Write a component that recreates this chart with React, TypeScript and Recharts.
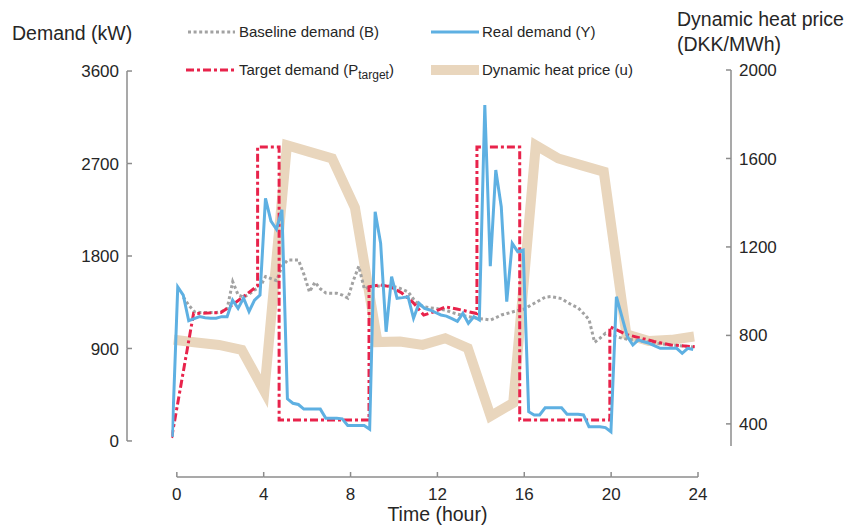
import React from 'react';
import { LineChart, Line, XAxis, YAxis, Legend } from 'recharts';

// ---------------- data ----------------
const xTicks = [0, 4, 8, 12, 16, 20, 24];
const demandTicks = [0, 900, 1800, 2700, 3600];
const priceTicks = [400, 800, 1200, 1600, 2000];

// Real demand (Y): samples (first one just left of 0 h)
const realStartHour = -0.21;
const realStepHours = 0.2525;
const realDemand = [
  40, 1500, 1420, 1170, 1190, 1210, 1200, 1195, 1195, 1210, 1210, 1370, 1290, 1390, 1260, 1370,
  1420, 2360, 2140, 2060, 2250, 410, 367, 355, 310, 310, 310, 310, 221, 221, 221, 215,
  150, 150, 150, 150, 115, 2231, 1924, 1063, 1599, 1388, 1395, 1404, 1194, 1340, 1290, 1275,
  1250, 1226, 1215, 1190, 1165, 1242, 1145, 1209, 1177, 3269, 1700, 2637, 2280, 1355, 1923, 1842,
  1858, 285, 253, 253, 323, 323, 323, 323, 260, 260, 260, 253, 139, 139, 139, 130,
  90, 1404, 1209, 1015, 934, 983, 965, 950, 925, 902, 902, 902, 902, 853, 902, 890,
];

// Baseline demand (B): same sampling, starting two samples later
const baselineStartHour = 0.3;
const baselineStepHours = 0.2525;
const baselineDemand = [
  1400, 1320, 1258, 1250, 1250, 1250, 1250, 1260, 1290, 1550, 1420, 1400, 1430, 1470,
  1500, 1600, 1580, 1560, 1700, 1760, 1760, 1760, 1620, 1450, 1545, 1480, 1440, 1437,
  1437, 1420, 1390, 1560, 1700, 1480, 1500, 1505, 1510, 1510, 1505, 1495, 1475, 1450,
  1380, 1323, 1305, 1295, 1290, 1280, 1270, 1250, 1235, 1220, 1209, 1200, 1190, 1185,
  1177, 1200, 1226, 1240, 1255, 1270, 1280, 1310, 1340, 1370, 1400, 1405, 1395, 1385,
  1350, 1320, 1295, 1240, 1180, 960, 1000, 1048, 1030, 1015, 1000, 990, 985, 975,
  970, 960, 950, 945, 940, 935, 930, 925, 920, 915,
];

// Target demand (P_target): vertices (hour, kW)
const targetHours = [
  -0.24, 0.77, 2.03, 2.53, 3.04, 3.72, 3.72, 4.71, 4.71, 8.85, 8.85, 9.35, 9.86, 10.36, 10.87, 11.37,
  11.88, 12.38, 12.89, 13.39, 13.82, 13.82, 15.79, 15.79, 19.94, 19.94, 20.72, 21.98, 22.74, 23.85,
];
const targetDemand = [
  30, 1240, 1250, 1320, 1400, 1510, 2860, 2860, 205, 205, 1500, 1520, 1500, 1440, 1350, 1225,
  1260, 1305, 1285, 1260, 1240, 2860, 2860, 205, 205, 1112, 1035, 968, 934, 917,
];

// Dynamic heat price (u): hourly vertices (hour, DKK/MWh)
const priceHours = [
  -0.14, 0.9, 1.94, 2.99, 4.03, 5.07, 6.11, 7.15, 8.2, 9.24, 10.28, 11.32,
  12.36, 13.4, 14.45, 15.49, 16.53, 17.57, 18.61, 19.66, 20.7, 21.74, 22.78, 23.82,
];
const priceValues = [
  780, 768, 757, 735, 548, 1660, 1630, 1600, 1378, 770, 772, 757,
  787, 742, 435, 495, 1660, 1600, 1570, 1540, 805, 775, 780, 795,
];

const realData = realDemand.map((v, i) => ({ t: realStartHour + i * realStepHours, v }));
const baselineData = baselineDemand.map((v, i) => ({ t: baselineStartHour + i * baselineStepHours, v }));
const targetData = targetHours.map((t, i) => ({ t, v: targetDemand[i] }));
const priceData = priceHours.map((t, i) => ({ t, v: priceValues[i] }));

// ---------------- layout / style ----------------
const CHART_W = 849;
const CHART_H = 526;
const TOP = 70;
const LEFT_AXIS_W = 127;
const RIGHT_AXIS_W = 118;
const X_AXIS_H = 80;
const X_DOMAIN = [-0.25, 24];
const X_PAD = { left: 44.4, right: 33 };
const PLOT_W = CHART_W - LEFT_AXIS_W - RIGHT_AXIS_W;
const PLOT_H = CHART_H - TOP - X_AXIS_H;
const HOUR_PX = (PLOT_W - X_PAD.left - X_PAD.right) / (X_DOMAIN[1] - X_DOMAIN[0]);
const LEFT_DOMAIN = [-49, 3610];
const RIGHT_DOMAIN = [300, 2000];
const DEMAND_PX = PLOT_H / (LEFT_DOMAIN[1] - LEFT_DOMAIN[0]);
const X_AXIS_DROP = 31;
const TICK_LEN = 5;
const Y_TICK_GAP = 8;

const FONT = '"Liberation Sans", Arial, Helvetica, sans-serif';
const TEXT = '#262626';
const AXIS = '#8c8c8c';
const C_BASE = '#a2a2a2';
const C_REAL = '#5eb0e2';
const C_TARGET = '#e8234b';
const C_PRICE = '#e9d6bd';
const DASH_BASE = '3 2.6';
const DASH_TARGET = '8 3 3 3';

const TICK_FONT = 17;
const TITLE_FONT = 19.5;
const LEGEND_FONT = 15;

const LeftTick = (props: any) => {
  const { x, y, payload } = props;
  const axisX = x + Y_TICK_GAP;
  const idx = demandTicks.indexOf(payload.value);
  const next = demandTicks[idx + 1];
  return (
    <g>
      {next !== undefined && (
        <line x1={axisX} x2={axisX} y1={y} y2={y - (next - payload.value) * DEMAND_PX} stroke={AXIS} strokeWidth={1.5} />
      )}
      <line x1={axisX} x2={axisX + TICK_LEN} y1={y} y2={y} stroke={AXIS} strokeWidth={1.5} />
      <text x={x} y={y} dy="0.355em" textAnchor="end" fontFamily={FONT} fontSize={TICK_FONT} fill={TEXT}>
        {payload.value}
      </text>
    </g>
  );
};

const RightTick = (props: any) => {
  const { x, y, payload } = props;
  const axisX = x - Y_TICK_GAP;
  return (
    <g>
      <line x1={axisX} x2={axisX - TICK_LEN} y1={y} y2={y} stroke={AXIS} strokeWidth={1.5} />
      <text x={x} y={y} dy="0.355em" textAnchor="start" fontFamily={FONT} fontSize={TICK_FONT} fill={TEXT}>
        {payload.value}
      </text>
    </g>
  );
};

const BottomTick = (props: any) => {
  const { x, y, payload } = props;
  const ay = y + X_AXIS_DROP;
  const idx = xTicks.indexOf(payload.value);
  const next = xTicks[idx + 1];
  return (
    <g>
      {next !== undefined && (
        <line x1={x} x2={x + (next - payload.value) * HOUR_PX} y1={ay} y2={ay} stroke={AXIS} strokeWidth={1.5} />
      )}
      <line x1={x} x2={x} y1={ay} y2={ay - TICK_LEN} stroke={AXIS} strokeWidth={1.5} />
      <text x={x} y={ay + 17} dy="0.355em" textAnchor="middle" fontFamily={FONT} fontSize={TICK_FONT} fill={TEXT}>
        {payload.value}
      </text>
    </g>
  );
};

const leftTitle = () => (
  <text x={12} y={33} dy="0.355em" fontFamily={FONT} fontSize={TITLE_FONT} fill={TEXT}>
    Demand (kW)
  </text>
);

const rightTitle = () => (
  <text fontFamily={FONT} fontSize={TITLE_FONT} fill={TEXT}>
    <tspan x={677} y={19} dy="0.355em">Dynamic heat price</tspan>
    <tspan x={677} y={44} dy="0.355em">(DKK/MWh)</tspan>
  </text>
);

const bottomTitle = () => (
  <text
    x={LEFT_AXIS_W + X_PAD.left + (12 - X_DOMAIN[0]) * HOUR_PX}
    y={514}
    dy="0.355em"
    textAnchor="middle"
    fontFamily={FONT}
    fontSize={TITLE_FONT}
    fill={TEXT}
  >
    Time (hour)
  </text>
);

const LegendBox = () => {
  const r1 = 32;
  const r2 = 70;
  const txt = { fontFamily: FONT, fontSize: LEGEND_FONT, fill: TEXT } as const;
  return (
    <svg width={CHART_W} height={90} style={{ display: 'block', overflow: 'visible' }}>
      <line x1={188} x2={235} y1={r1} y2={r1} stroke={C_BASE} strokeWidth={3} strokeDasharray={DASH_BASE} />
      <text x={239} y={r1} dy="0.355em" {...txt}>Baseline demand (B)</text>
      <line x1={431} x2={479} y1={r1} y2={r1} stroke={C_REAL} strokeWidth={3} />
      <text x={482} y={r1} dy="0.355em" {...txt}>Real demand (Y)</text>
      <line x1={186} x2={235} y1={r2} y2={r2} stroke={C_TARGET} strokeWidth={3} strokeDasharray={DASH_TARGET} />
      <text x={239} y={r2} dy="0.355em" {...txt}>
        Target demand (P
        <tspan fontSize={12} dy={4}>target</tspan>
        <tspan dy={-4}>)</tspan>
      </text>
      <line x1={431} x2={479} y1={r2} y2={r2} stroke={C_PRICE} strokeWidth={10} />
      <text x={482} y={r2} dy="0.355em" {...txt}>Dynamic heat price (u)</text>
    </svg>
  );
};

export default function App() {
  return (
    <div style={{ position: 'absolute', left: 0, top: 0, width: CHART_W, height: CHART_H, background: '#fff' }}>
      <LineChart width={CHART_W} height={CHART_H} margin={{ top: TOP, right: 0, bottom: 0, left: 0 }}>
        <XAxis
          xAxisId="time"
          type="number"
          dataKey="t"
          domain={X_DOMAIN}
          ticks={xTicks}
          interval={0}
          allowDataOverflow
          padding={X_PAD}
          height={X_AXIS_H}
          axisLine={false}
          tickLine={false}
          tickSize={0}
          tickMargin={0}
          tick={(p: any) => <BottomTick {...p} />}
          label={bottomTitle}
        />
        <YAxis
          yAxisId="demand"
          orientation="left"
          width={LEFT_AXIS_W}
          domain={LEFT_DOMAIN}
          ticks={demandTicks}
          interval={0}
          allowDataOverflow
          axisLine={false}
          tickLine={false}
          tickSize={0}
          tickMargin={Y_TICK_GAP}
          tick={(p: any) => <LeftTick {...p} />}
          label={leftTitle}
        />
        <YAxis
          yAxisId="price"
          orientation="right"
          width={RIGHT_AXIS_W}
          domain={RIGHT_DOMAIN}
          ticks={priceTicks}
          interval={0}
          allowDataOverflow
          axisLine={{ stroke: AXIS, strokeWidth: 1.5 }}
          tickLine={false}
          tickSize={0}
          tickMargin={Y_TICK_GAP}
          tick={(p: any) => <RightTick {...p} />}
          label={rightTitle}
        />
        <Legend
          verticalAlign="middle"
          align="center"
          layout="horizontal"
          wrapperStyle={{ left: 0, top: 0, width: CHART_W, height: 90 }}
          content={() => <LegendBox />}
        />
        <Line
          name="Dynamic heat price (u)"
          data={priceData}
          dataKey="v"
          xAxisId="time"
          yAxisId="price"
          type="linear"
          stroke={C_PRICE}
          strokeWidth={10}
          dot={false}
          activeDot={false}
          isAnimationActive={false}
        />
        <Line
          name="Baseline demand (B)"
          data={baselineData}
          dataKey="v"
          xAxisId="time"
          yAxisId="demand"
          type="linear"
          stroke={C_BASE}
          strokeWidth={3}
          strokeDasharray={DASH_BASE}
          dot={false}
          activeDot={false}
          isAnimationActive={false}
        />
        <Line
          name="Target demand (Ptarget)"
          data={targetData}
          dataKey="v"
          xAxisId="time"
          yAxisId="demand"
          type="linear"
          stroke={C_TARGET}
          strokeWidth={3}
          strokeDasharray={DASH_TARGET}
          dot={false}
          activeDot={false}
          isAnimationActive={false}
        />
        <Line
          name="Real demand (Y)"
          data={realData}
          dataKey="v"
          xAxisId="time"
          yAxisId="demand"
          type="linear"
          stroke={C_REAL}
          strokeWidth={3}
          dot={false}
          activeDot={false}
          isAnimationActive={false}
        />
      </LineChart>
    </div>
  );
}
